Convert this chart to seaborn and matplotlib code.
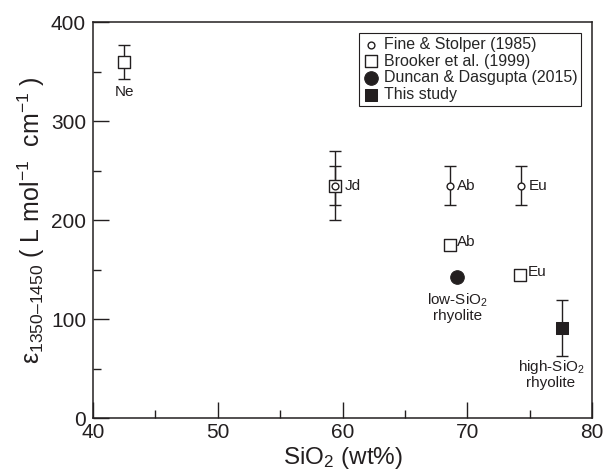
import numpy as np
import pandas as pd
import seaborn as sns
import matplotlib.pyplot as plt

# dati
fs_sio2 = [59.4, 68.6, 74.3]
fs_eps = [235, 235, 235]
fs_err = [20, 20, 20]
fs_lab = ["Jd", "Ab", "Eu"]

br_sio2 = [42.5, 59.4, 68.6, 74.2]
br_eps = [360, 235, 175, 145]
br_err = [17, 35, 0, 0]
br_lab = ["Ne", "Jd", "Ab", "Eu"]

dd_sio2 = [69.2]
dd_eps = [143]

ts_sio2 = [77.6]
ts_eps = [91]
ts_err = [28]

sns.set_style("ticks")
plt.rcParams['font.family'] = ['Liberation Sans', 'DejaVu Sans']
plt.rcParams['mathtext.fontset'] = 'custom'
plt.rcParams['mathtext.rm'] = 'Liberation Sans'
plt.rcParams['mathtext.it'] = 'Liberation Sans:italic'

fig, ax = plt.subplots(figsize=(6.08, 4.75), dpi=100)
fig.subplots_adjust(left=0.153, right=0.974, top=0.953, bottom=0.12)

tc = "#231f20"

# barre di errore
ax.errorbar(br_sio2[:2], br_eps[:2], yerr=br_err[:2], fmt='none', ecolor=tc,
            elinewidth=1, capsize=4.5, capthick=1, zorder=1)
ax.errorbar(fs_sio2, fs_eps, yerr=fs_err, fmt='none', ecolor=tc,
            elinewidth=1, capsize=4.5, capthick=1, zorder=1)
ax.errorbar(ts_sio2, ts_eps, yerr=ts_err, fmt='none', ecolor=tc,
            elinewidth=1, capsize=4.5, capthick=1, zorder=1)

fs = pd.DataFrame({"sio2": fs_sio2, "eps": fs_eps})
br = pd.DataFrame({"sio2": br_sio2, "eps": br_eps})
dd = pd.DataFrame({"sio2": dd_sio2, "eps": dd_eps})
ts = pd.DataFrame({"sio2": ts_sio2, "eps": ts_eps})

sns.scatterplot(x="sio2", y="eps", data=br, marker="s", s=75, facecolor="white",
                edgecolor=tc, linewidth=1, label="Brooker et al. (1999)", ax=ax, zorder=2)
sns.scatterplot(x="sio2", y="eps", data=fs, marker="o", s=24, facecolor="white",
                edgecolor=tc, linewidth=1, label="Fine & Stolper (1985)", ax=ax, zorder=3)
sns.scatterplot(x="sio2", y="eps", data=dd, marker="o", s=95, color=tc,
                edgecolor=tc, label="Duncan & Dasgupta (2015)", ax=ax, zorder=3)
sns.scatterplot(x="sio2", y="eps", data=ts, marker="s", s=85, color=tc,
                edgecolor=tc, label="This study", ax=ax, zorder=3)

fsz = 11
ax.text(br_sio2[0], 337, "Ne", ha="center", va="top", fontsize=fsz, color=tc)
ax.text(60.2, 235, "Jd", ha="left", va="center", fontsize=fsz, color=tc)
ax.text(69.2, 235, "Ab", ha="left", va="center", fontsize=fsz, color=tc)
ax.text(74.9, 235, "Eu", ha="left", va="center", fontsize=fsz, color=tc)
ax.text(69.2, 178, "Ab", ha="left", va="center", fontsize=fsz, color=tc)
ax.text(74.8, 148, "Eu", ha="left", va="center", fontsize=fsz, color=tc)
ax.text(69.2, 128, "low-SiO$_2$\nrhyolite", ha="center", va="top", fontsize=fsz,
        color=tc, linespacing=1.0)
ax.text(76.7, 61, "high-SiO$_2$\nrhyolite", ha="center", va="top", fontsize=fsz,
        color=tc, linespacing=1.0)

ax.set_xlim(40, 80)
ax.set_ylim(0, 400)
ax.set_xticks([40, 50, 60, 70, 80])
ax.set_xticks([45, 55, 65, 75], minor=True)
ax.set_yticks([0, 100, 200, 300, 400])
ax.set_yticks([50, 150, 250, 350], minor=True)
ax.tick_params(which="major", direction="in", length=11.5, width=1, labelsize=15,
               colors=tc)
ax.tick_params(axis="x", which="major", pad=3.5)
ax.tick_params(axis="y", which="major", pad=5)
ax.tick_params(which="minor", direction="in", length=5.8, width=1, colors=tc)
for sp in ax.spines.values():
    sp.set_linewidth(1.1)
    sp.set_color(tc)

ax.set_xlabel("SiO$_2$ (wt%)", fontsize=17.5, color=tc, labelpad=2)
ax.set_ylabel("ε$_{1350\u20131450}$ ( L mol$^{-1}$  cm$^{-1}$ )", fontsize=18, color=tc, labelpad=3)

h, l = ax.get_legend_handles_labels()
order = [1, 0, 2, 3]
leg = ax.legend([h[i] for i in order], [l[i] for i in order], loc="upper right",
                bbox_to_anchor=(0.988, 0.985), fontsize=11.5, frameon=True, fancybox=False,
                edgecolor=tc, framealpha=1, handletextpad=0.3, borderpad=0.25,
                labelspacing=0.1, handlelength=1.0, borderaxespad=0.3)
leg.get_frame().set_linewidth(0.8)

fig.savefig("out.png", dpi=100)
